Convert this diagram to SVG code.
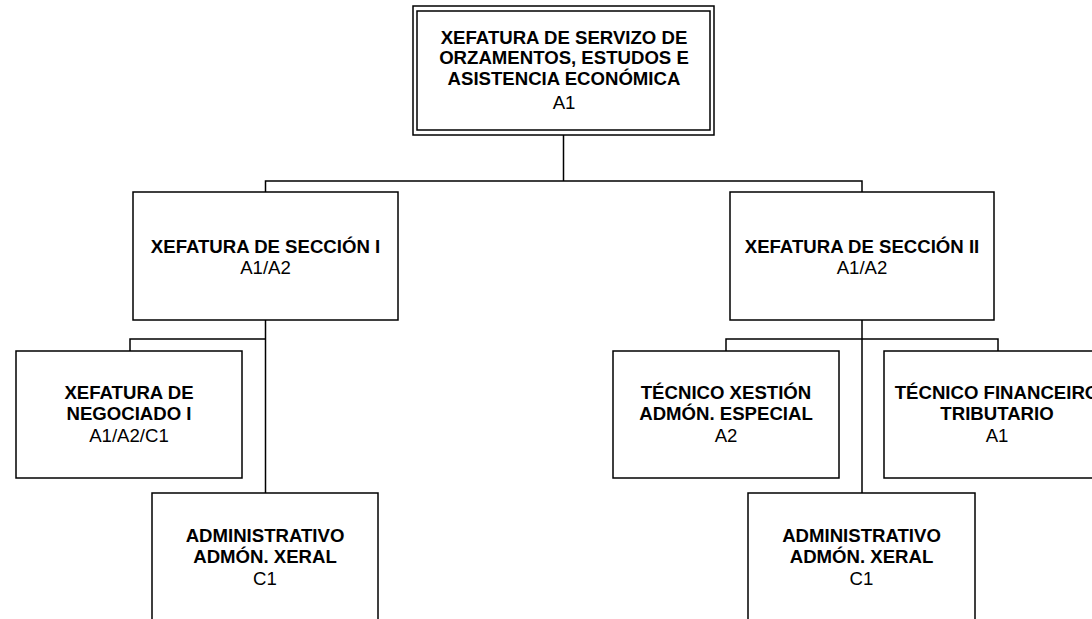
<svg xmlns="http://www.w3.org/2000/svg" width="1092" height="619" viewBox="0 0 1092 619">
<style>
.box{fill:#fff;stroke:#000;stroke-width:1.5}
.ln{fill:none;stroke:#000;stroke-width:1.5}
text{font-family:"Liberation Sans",Arial,sans-serif;font-size:18.6px;fill:#000;text-anchor:middle}
.b{font-weight:bold}
</style>
<rect x="0" y="0" width="1092" height="619" fill="#fff"/>
<g id="connectors">
<path class="ln" d="M563.5 135 V181 M265.5 192 V181 H862 V192"/>
<path class="ln" d="M265.5 320 V493 M130 351 V339 H265.5"/>
<path class="ln" d="M862 320 V493 M726 351 V339 H998 V351"/>
</g>
<g id="n-servizo">
<rect class="box" x="413" y="6" width="301" height="129"/>
<rect class="box" x="417" y="11" width="293" height="119"/>
<text class="b" x="564" y="43.5">XEFATURA DE SERVIZO DE</text>
<text class="b" x="564" y="64">ORZAMENTOS, ESTUDOS E</text>
<text class="b" x="564" y="84.5">ASISTENCIA ECONÓMICA</text>
<text x="564" y="108.5">A1</text>
</g>
<g id="n-seccion1">
<rect class="box" x="133" y="192" width="265" height="128"/>
<text class="b" x="265.5" y="252.5">XEFATURA DE SECCIÓN I</text>
<text x="265.5" y="274">A1/A2</text>
</g>
<g id="n-seccion2">
<rect class="box" x="730" y="192" width="264" height="128"/>
<text class="b" x="862" y="252.5">XEFATURA DE SECCIÓN II</text>
<text x="862" y="274">A1/A2</text>
</g>
<g id="n-negociado">
<rect class="box" x="16" y="351" width="226" height="127"/>
<text class="b" x="129" y="399">XEFATURA DE</text>
<text class="b" x="129" y="420">NEGOCIADO I</text>
<text x="129" y="441.5">A1/A2/C1</text>
</g>
<g id="n-admin1">
<rect class="box" x="152" y="493" width="226" height="160"/>
<text class="b" x="265" y="541.5">ADMINISTRATIVO</text>
<text class="b" x="265" y="563">ADMÓN. XERAL</text>
<text x="265" y="584.5">C1</text>
</g>
<g id="n-tecxestion">
<rect class="box" x="613" y="351" width="226" height="127"/>
<text class="b" x="726" y="398.5">TÉCNICO XESTIÓN</text>
<text class="b" x="726" y="420">ADMÓN. ESPECIAL</text>
<text x="726" y="441.5">A2</text>
</g>
<g id="n-tecfinanceiro">
<rect class="box" x="884" y="351" width="226" height="127"/>
<text class="b" x="997" y="398.5">TÉCNICO FINANCEIRO</text>
<text class="b" x="997" y="420">TRIBUTARIO</text>
<text x="997" y="441.5">A1</text>
</g>
<g id="n-admin2">
<rect class="box" x="748" y="493" width="227" height="160"/>
<text class="b" x="861.5" y="541.5">ADMINISTRATIVO</text>
<text class="b" x="861.5" y="563">ADMÓN. XERAL</text>
<text x="861.5" y="584.5">C1</text>
</g>
</svg>
